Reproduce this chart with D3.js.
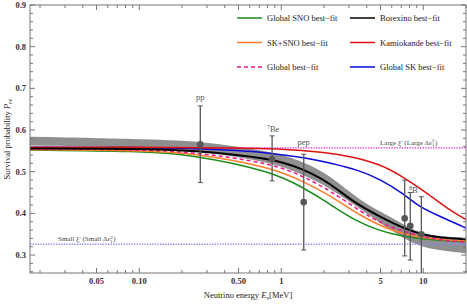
<!DOCTYPE html>
<html>
<head>
<meta charset="utf-8">
<script src="https://cdn.jsdelivr.net/npm/d3@7"></script>
<style>
  body { margin: 0; background: white; }
  svg { display: block; font-family: "Liberation Serif", "DejaVu Serif", serif; }
</style>
</head>
<body>
<svg width="467" height="304"></svg>
<script>
// chart size
const width = 467
const height = 304
const margin = { top: 5, right: 1, bottom: 31, left: 30 }

// axis ticks
const xMajor = [0.05, 0.1, 0.5, 1, 5, 10]
const xMajorLabels = ['0.05', '0.10', '0.50', '1', '5', '10']
const xMinor = [0.02, 0.03, 0.04, 0.06, 0.07, 0.08, 0.09,
  0.2, 0.3, 0.4, 0.6, 0.7, 0.8, 0.9, 2, 3, 4, 6, 7, 8, 9, 20]
const yMajor = [0.3, 0.4, 0.5, 0.6, 0.7, 0.8, 0.9]

// best-fit curves (energy in MeV, survival probability)
const greenE = [0.017, 0.1, 0.23, 0.88, 1.43, 2.0, 3.5, 6.1, 10, 20]
const greenP = [0.552, 0.549, 0.542, 0.500, 0.461, 0.432, 0.376, 0.348, 0.338, 0.332]
const orangeE = [0.017, 0.1, 0.23, 0.88, 1.43, 2.2, 3.5, 6.1, 10, 20]
const orangeP = [0.553, 0.551, 0.546, 0.510, 0.476, 0.444, 0.396, 0.356, 0.340, 0.334]
const pinkE = [0.017, 0.1, 0.23, 0.88, 1.43, 2.2, 4.4, 7.2, 12.4, 20]
const pinkP = [0.555, 0.553, 0.548, 0.520, 0.488, 0.456, 0.384, 0.356, 0.336, 0.331]
const blackE = [0.017, 0.1, 0.23, 0.88, 1.43, 2.2, 3.06, 5, 7.2, 10, 13.1, 20]
const blackP = [0.556, 0.555, 0.552, 0.532, 0.506, 0.473, 0.432, 0.391, 0.365, 0.348, 0.342, 0.338]
const blueE = [0.017, 0.1, 0.23, 0.5, 0.88, 1.5, 2.2, 3.5, 5, 7.5, 9, 12.4, 20]
const blueP = [0.559, 0.558, 0.556, 0.551, 0.544, 0.533, 0.521, 0.504, 0.482, 0.444, 0.420, 0.396, 0.365]
const redE = [0.017, 0.1, 0.5, 1, 2, 3, 5, 7, 10, 15, 20]
const redP = [0.559, 0.559, 0.557, 0.555, 0.547, 0.538, 0.518, 0.490, 0.455, 0.410, 0.385]

// grey uncertainty band
const bandE = [0.017, 0.1, 0.27, 0.88, 1.43, 2.2, 3.5, 6.1, 8.8, 12.4, 20]
const bandHigh = [0.584, 0.578, 0.574, 0.548, 0.524, 0.492, 0.432, 0.389, 0.356, 0.344, 0.342]
const bandLow = [0.563, 0.558, 0.549, 0.522, 0.492, 0.461, 0.413, 0.356, 0.324, 0.312, 0.304]

// measured points
const pointE = [0.269, 0.862, 1.44, 7.4, 8.1, 9.7]
const pointP = [0.566, 0.530, 0.427, 0.388, 0.370, 0.350]
const pointHi = [0.658, 0.586, 0.542, 0.480, 0.450, 0.440]
const pointLo = [0.474, 0.478, 0.312, 0.298, 0.288, 0.250]

// reference levels
const largeLevel = 0.557
const smallLevel = 0.326

const curves = [
  { E: greenE, P: greenP, color: '#1a8c1a', dash: null, w: 1.5 },
  { E: orangeE, P: orangeP, color: '#ff7f2a', dash: null, w: 1.5 },
  { E: pinkE, P: pinkP, color: '#f0158c', dash: '4,3', w: 1.5 },
  { E: blueE, P: blueP, color: '#0a0adc', dash: null, w: 1.5 },
  { E: redE, P: redP, color: '#e01010', dash: null, w: 1.5 },
  { E: blackE, P: blackP, color: '#000000', dash: null, w: 2 }
]

const legend = [
  { label: 'Global SNO best\u2212fit', c: 0 }, { label: 'Borexino best\u2212fit', c: 5 },
  { label: 'SK+SNO best\u2212fit', c: 1 }, { label: 'Kamiokande best\u2212fit', c: 4 },
  { label: 'Global best\u2212fit', c: 2 }, { label: 'Global SK best\u2212fit', c: 3 }
]

const x = d3.scaleLog().domain([0.017, 20]).range([margin.left, width - margin.right])
const y = d3.scaleLinear().domain([0.257, 0.9]).range([height - margin.bottom, margin.top])

const svg = d3.select('svg')
const x0 = x.range()[0], x1 = x.range()[1]
const y0 = y.range()[0], y1 = y.range()[1]

svg.append('defs').append('clipPath').attr('id', 'clip')
  .append('rect').attr('x', x0).attr('y', y1).attr('width', x1 - x0).attr('height', y0 - y1)

const plot = svg.append('g').attr('clip-path', 'url(#clip)')

// band
const area = d3.area()
  .x((d, i) => x(bandE[i]))
  .y0((d, i) => y(bandLow[i]))
  .y1((d, i) => y(bandHigh[i]))
  .curve(d3.curveBasis)
plot.append('path').datum(bandE).attr('d', area).attr('fill', '#8f8f8f')

// dotted levels
plot.append('line').attr('x1', x0).attr('x2', x1)
  .attr('y1', y(largeLevel)).attr('y2', y(largeLevel))
  .attr('stroke', '#e020e0').attr('stroke-width', 1.3).attr('stroke-dasharray', '1.3,1.3')
plot.append('line').attr('x1', x0).attr('x2', x1)
  .attr('y1', y(smallLevel)).attr('y2', y(smallLevel))
  .attr('stroke', '#8888ff').attr('stroke-width', 1.3).attr('stroke-dasharray', '1.3,1.3')

// curves (smoothed through the read-off points)
const line = d3.line().curve(d3.curveBasis)
curves.forEach(c => {
  plot.append('path')
    .attr('d', line(c.E.map((e, i) => [x(e), y(c.P[i])])))
    .attr('fill', 'none')
    .attr('stroke', c.color)
    .attr('stroke-width', c.w)
    .attr('stroke-dasharray', c.dash)
})

// error bars
const pts = plot.append('g').attr('stroke', '#575757').attr('fill', '#575757')
pointE.forEach((e, i) => {
  const px = x(e)
  pts.append('line').attr('x1', px).attr('x2', px)
    .attr('y1', y(pointHi[i])).attr('y2', y(pointLo[i])).attr('stroke-width', 1.3)
  ;[pointHi[i], pointLo[i]].forEach(v => {
    pts.append('line').attr('x1', px - 2.5).attr('x2', px + 2.5)
      .attr('y1', y(v)).attr('y2', y(v)).attr('stroke-width', 1)
  })
  pts.append('circle').attr('cx', px).attr('cy', y(pointP[i])).attr('r', 3.3).attr('stroke', 'none')
})

// source labels
const labStyle = sel => sel.attr('fill', '#555').attr('font-size', 8.5).attr('text-anchor', 'middle')
svg.append('text').attr('x', x(0.269)).attr('y', 100).text('pp').call(labStyle)
const be = svg.append('text').attr('x', x(0.862) + 1).attr('y', 132).call(labStyle)
be.append('tspan').attr('font-size', 6).attr('dy', -3).text('7')
be.append('tspan').attr('dy', 3).text('Be')
svg.append('text').attr('x', x(1.44)).attr('y', 145).text('pep').call(labStyle)
const b8 = svg.append('text').attr('x', x(8.1) + 3).attr('y', 193).call(labStyle)
b8.append('tspan').attr('font-size', 6).attr('dy', -3).text('8')
b8.append('tspan').attr('dy', 3).text('B')

// level labels
function levelLabel(xPos, yPos, word) {
  const t = svg.append('text').attr('x', xPos).attr('y', yPos)
    .attr('fill', '#444').attr('font-size', 7)
  t.append('tspan').text(word + ' \u03be\u2032 (' + word + ' \u0394\u03b5')
  t.append('tspan').attr('font-size', 5).attr('dy', -2.5).text('2')
  t.append('tspan').attr('font-size', 5).attr('dx', -2.5).attr('dy', 4).text('1')
  t.append('tspan').attr('dy', -1.5).attr('dx', 0.5).text(')')
}
levelLabel(380, y(largeLevel) - 3, 'Large')
levelLabel(58, y(smallLevel) - 3, 'Small')

// frame and ticks
const axisColor = '#777'
const frame = svg.append('g').attr('stroke', axisColor).attr('stroke-width', 1)
frame.append('rect').attr('x', x0).attr('y', y1).attr('width', x1 - x0).attr('height', y0 - y1)
  .attr('fill', 'none')

function xTick(v, len) {
  frame.append('line').attr('x1', x(v)).attr('x2', x(v)).attr('y1', y0).attr('y2', y0 - len)
  frame.append('line').attr('x1', x(v)).attr('x2', x(v)).attr('y1', y1).attr('y2', y1 + len)
}
xMajor.forEach(v => xTick(v, 5))
xMinor.forEach(v => xTick(v, 3))

const yMinor = d3.range(0.26, 0.9, 0.02).filter(v => !yMajor.some(m => Math.abs(m - v) < 1e-6))
function yTick(v, len) {
  frame.append('line').attr('x1', x0).attr('x2', x0 + len).attr('y1', y(v)).attr('y2', y(v))
  frame.append('line').attr('x1', x1).attr('x2', x1 - len).attr('y1', y(v)).attr('y2', y(v))
}
yMajor.forEach(v => yTick(v, 5))
yMinor.forEach(v => yTick(v, 3))

// tick labels
const tickText = sel => sel.attr('fill', '#333').attr('font-size', 8.5).attr('font-weight', 'bold')
xMajor.forEach((v, i) => {
  svg.append('text').attr('x', x(v)).attr('y', y0 + 11).attr('text-anchor', 'middle')
    .text(xMajorLabels[i]).call(tickText)
})
yMajor.forEach(v => {
  svg.append('text').attr('x', x0 - 4).attr('y', y(v) + 3).attr('text-anchor', 'end')
    .text(v.toFixed(1)).call(tickText)
})

// axis titles
const xt = svg.append('text').attr('x', (x0 + x1) / 2).attr('y', 298)
  .attr('text-anchor', 'middle').attr('font-size', 8.5).attr('fill', '#222')
xt.append('tspan').text('Neutrino energy ')
xt.append('tspan').attr('font-style', 'italic').text('E')
xt.append('tspan').attr('font-size', 6).attr('dy', 2).text('\u03bd')
xt.append('tspan').attr('dy', -2).text('[MeV]')

const yt = svg.append('text')
  .attr('transform', `translate(10,${(y0 + y1) / 2}) rotate(-90)`)
  .attr('text-anchor', 'middle').attr('font-size', 8.5).attr('fill', '#222')
yt.append('tspan').text('Survival probability ')
yt.append('tspan').attr('font-style', 'italic').text('P')
yt.append('tspan').attr('font-style', 'italic').attr('font-size', 6).attr('dy', 2).text('ee')

// legend
const lg = svg.append('g')
legend.forEach((d, i) => {
  const col = i % 2, row = Math.floor(i / 2)
  const lx = col === 0 ? 237 : 350
  const ly = 18 + row * 24.5
  const c = curves[d.c]
  lg.append('line').attr('x1', lx).attr('x2', lx + 25).attr('y1', ly).attr('y2', ly)
    .attr('stroke', c.color).attr('stroke-width', 1.5).attr('stroke-dasharray', c.dash)
  lg.append('text').attr('x', lx + 30).attr('y', ly + 3).attr('font-size', 8.5)
    .attr('fill', '#222').text(d.label)
})
</script>
</body>
</html>
